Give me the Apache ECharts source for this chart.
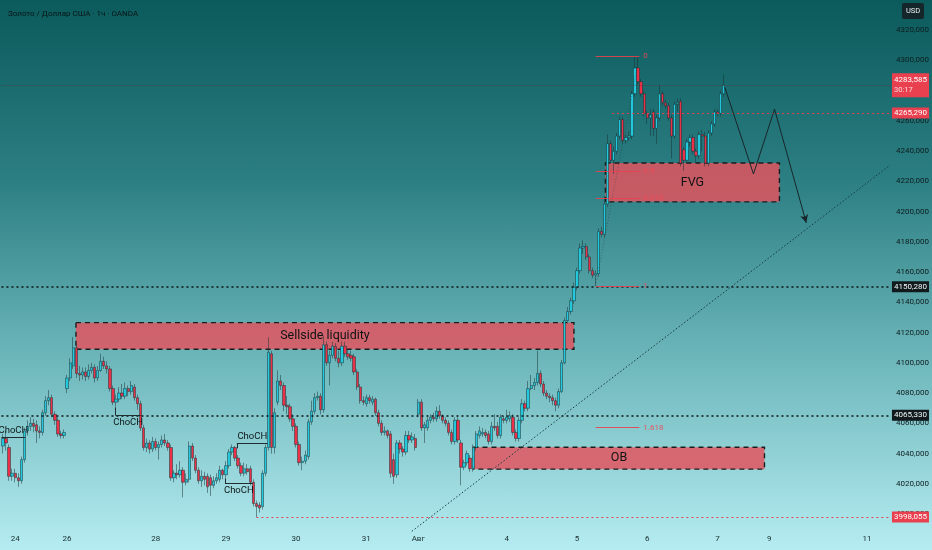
<!DOCTYPE html>
<html><head><meta charset="utf-8">
<script src="https://cdn.jsdelivr.net/npm/echarts@6/dist/echarts.min.js"></script>
<style>
html,body{margin:0;padding:0;}
#c{width:932px;height:550px;background:linear-gradient(to bottom,#0b5a5c 0%,#2c7f83 33%,#68b3b7 63%,#b5ecf1 100%);}
</style></head><body><div id="c"></div>
<script>
// ---- data ----
const opens=[4045,4050,4044,4025,4027,4024,4022,4036,4055,4058,4060,4059,4055,4054,4067,4075,4077,4066,4062,4053,4052,
4083,4090,4098,4110,4093,4092,4094,4091,4095,4097,4090,4095,4101,4098,4096,4083,4074,4076,4080,4078,4083,4081,4084,4077,
4073,4057,4044,4047,4043,4048,4044,4046,4049,4047,4044,4024,4027,4026,4029,4021,4023,4045,4037,4029,4022,4025,4025,4024,4019,4022,4023,4029,4026,4032,4041,4044,4037,4032,4027,4030,4030,4021,4007,4006,4005,4027,4044,4106,4044,4074,4088,4085,
4072,4071,4063,4058,4046,4034,4035,4038,4061,4068,4077,4078,4069,4112,4100,4105,4111,4103,4100,4111,4106,4105,4104,4094,4084,4075,4073,4077,4074,4076,4067,4060,4054,4055,4053,4036,4026,4047,4043,4041,4052,4049,4050,
4066,4074,4057,4057,4062,4064,4063,4068,4065,4062,4060,4054,4048,4062,4047,4031,4034,4037,4030,4044,4052,4053,4054,4053,4048,4058,4058,4052,4063,4062,4063,4064,4054,4050,4062,4073,4070,4083,4085,4087,4093,4086,4080,4078,4077,4075,4072,4081,4100,4128,4134,
4141,4150,4161,4176,4177,4170,4161,4158,4159,4187,4185,4205,4245,4234,4240,4250,4261,4247,4249,4250,4278,4295,4286,4278,4265,4262,4266,4255,4262,4278,4272,4270,4262,4250,4271,4273,4241,4234,4246,4249,4240,4237,4251,4250,4232,4252,4258,4266,4265,4278];
const closes=[4050,4047,4025,4027,4024,4022,4036,4055,4058,4060,4058,4055,4054,4067,4075,4077,4066,4062,4053,4052,4054,
4090,4100,4110,4093,4092,4094,4091,4095,4097,4090,4095,4101,4098,4096,4083,4074,4076,4080,4078,4083,4081,4085,4077,4073,
4057,4044,4047,4043,4048,4044,4046,4049,4047,4044,4024,4027,4026,4029,4021,4023,4045,4037,4029,4022,4025,4023,4018,4019,4022,4024,4029,4026,4032,4041,4044,4037,4032,4027,4030,4028,4021,4007,4005,4004,4027,4044,4107,4044,4067,4088,4085,4072,
4071,4063,4058,4046,4034,4035,4039,4061,4068,4077,4078,4069,4112,4100,4105,4111,4103,4100,4111,4106,4104,4103,4094,4084,4075,4074,4077,4075,4076,4067,4060,4054,4055,4052,4027,4025,4047,4043,4041,4052,4049,4051,4044,
4074,4057,4059,4062,4064,4063,4068,4065,4062,4060,4054,4048,4062,4049,4031,4034,4040,4030,4044,4053,4055,4054,4052,4048,4058,4057,4052,4064,4062,4064,4065,4054,4050,4062,4073,4070,4083,4085,4087,4093,4086,4080,4078,4077,4075,4072,4081,4100,4128,4134,4141,
4150,4161,4176,4177,4170,4161,4158,4159,4187,4185,4205,4245,4234,4240,4250,4261,4247,4249,4250,4278,4295,4286,4278,4265,4262,4264,4255,4262,4278,4272,4270,4262,4250,4271,4272,4232,4234,4246,4249,4240,4237,4251,4250,4232,4252,4258,4266,4265,4278,4283.585];
const lows=[4040,4042,4022,4022,4021,4018,4020,4034,4052,4055,4054,4047,4050,4052,4065,4072,4064,4059,4051,4050,4050,
4080,4088,4096,4090,4088,4089,4088,4089,4093,4087,4088,4094,4096,4093,4081,4072,4071,4074,4076,4076,4078,4079,4075,4069,
4055,4042,4041,4040,4041,4042,4036,4044,4045,4042,4022,4021,4023,4024,4011,4019,4021,4035,4027,4020,4018,4019,4014,4012,4017,4020,4021,4023,4024,4030,4039,4035,4030,4025,4025,4026,4019,4005,3998.055,4001,4003,4025,4042,4040,4040,4072,4082,4068,
4066,4061,4055,4044,4032,4029,4033,4036,4059,4066,4075,4066,4067,4098,4085,4103,4101,4097,4098,4104,4102,4101,4092,4082,4073,4072,4071,4073,4072,4065,4058,4052,4052,4050,4024,4020,4024,4040,4038,4039,4047,4047,4042,
4064,4055,4047,4055,4060,4061,4061,4063,4060,4058,4052,4046,4046,4047,4019,4029,4032,4028,4028,4042,4050,4051,4050,4046,4046,4055,4050,4050,4060,4060,4061,4052,4048,4048,4060,4068,4068,4082,4082,4085,4084,4078,4076,4074,4072,4068,4070,4080,4099,4126,4132,
4139,4148,4159,4172,4168,4159,4156,4151,4157,4183,4183,4203,4232,4225,4238,4248,4245,4245,4247,4248,4276,4284,4276,4263,4258,4250,4250,4245,4260,4270,4268,4260,4235,4248,4266,4230,4227,4232,4243,4238,4233,4235,4240,4230,4230,4250,4256,4263,4263,4276];
const highs=[4053,4055,4046,4030,4030,4027,4038,4057,4062,4064,4063,4062,4058,4069,4078,4082,4079,4068,4064,4055,4056,
4092,4103,4117,4112,4098,4097,4097,4099,4100,4099,4098,4106,4104,4101,4098,4085,4079,4084,4086,4087,4085,4088,4086,4079,
4075,4059,4050,4049,4051,4050,4048,4052,4053,4049,4046,4029,4033,4035,4031,4027,4048,4047,4039,4031,4029,4028,4027,4026,4025,4027,4032,4030,4035,4043,4046,4045,4039,4034,4034,4033,4032,4023,4009,4008,4029,4046,4117,4108,4070,4095,4092,4087,
4078,4073,4066,4060,4048,4038,4042,4063,4075,4080,4081,4080,4118,4114,4108,4114,4113,4108,4114,4114,4109,4108,4106,4096,4086,4078,4079,4079,4078,4077,4069,4062,4058,4056,4055,4040,4049,4049,4045,4055,4055,4054,4053,
4076,4076,4061,4064,4066,4067,4071,4072,4066,4064,4062,4056,4064,4064,4049,4036,4042,4039,4046,4055,4058,4057,4056,4055,4061,4066,4061,4066,4065,4069,4068,4066,4056,4064,4076,4075,4088,4092,4090,4108,4095,4088,4082,4080,4079,4077,4083,4102,4130,4137,4143,
4153,4163,4179,4181,4179,4172,4163,4161,4189,4190,4210,4251,4247,4243,4252,4263,4263,4251,4253,4280,4302.8,4302.8,4288,4280,4267,4268,4268,4264,4284,4280,4274,4272,4264,4273,4275,4275,4243,4248,4251,4251,4242,4253,4254,4253,4254,4260,4268,4268,4280,4291];
const slotCount = 291;                      // hourly slots incl. empty future area
const dayLabels = ['24','26','28','29','30','31','Авг','4','5','6','7','9','11'];
const dayLabelIdx = [4,21,50,73,96,119,136,165,188,211,234,251,283];
const blackLevels = [4150.28, 4065.33];
const redLevels = [3998.055, 4265.29];
const redLevelFrom = [83, 199.5];
const lastPrice = 4283.585;
const countdown = '30:17';
const zoneNames = ['Sellside liquidity','FVG','OB'];
const zoneFrom = [23.9, 197.3, 154.1];
const zoneTo = [187, 254.3, 249.4];
const zoneTop = [4126.6, 4232.2, 4044.2];
const zoneBottom = [4109, 4206.5, 4029.7];
const fibHigh = 4302.8, fibLow = 4151.0;
const fibLevels = [0, 0.5, 0.618, 1, 1.618];
const fibLabels = ['0','0.5','0.618','1','1.618'];
const fibFrom = 194.1, fibTo = 208.4;
const trendIdx = [133.9, 290.5];
const trendPrice = [3988.6, 4230.7];
const projIdx = [236.4, 245.8, 252.7, 263.1];
const projPrice = [4282.3, 4224.9, 4267.8, 4192.6];
const chochFrom = [-0.5, 36.9, 76.6, 72.7];
const chochTo = [7.3, 45.1, 86.7, 81.8];
const chochPrice = [4050.8, 4065.3, 4046.8, 4020.4];
const chochStub = [null, 4070.6, 4043.5, 4023.7];
const chochAbove = [true, false, true, false];

// ---- build ----
const fmt = v => v.toFixed(3).replace('.', ',');
const cats = [];
for (let i = 0; i < slotCount; i++) cats.push('');
dayLabelIdx.forEach((k, j) => { cats[k] = dayLabels[j]; });
const candles = opens.map((o, i) => [o, closes[i], lows[i], highs[i]]);
const xEnd = slotCount - 0.5;
const FONT = 'Roboto, "Liberation Sans", sans-serif';

const lines = [];
blackLevels.forEach(p => lines.push([
  {coord:[-0.5,p], lineStyle:{color:'#0c1416', width:1.6, type:[2,3]},
   label:{show:true, position:'end', distance:2, formatter:fmt(p), backgroundColor:'#101a1d', color:'#f2f6f6', fontSize:8, padding:[2,2,1,2], fontFamily:FONT}},
  {coord:[xEnd,p]}]));
redLevels.forEach((p,j) => lines.push([
  {coord:[redLevelFrom[j],p], lineStyle:{color:'#e8404f', width:1, type:[2,3]},
   label:{show:true, position:'end', distance:2, formatter:fmt(p), backgroundColor:'#e8404f', color:'#ffffff', fontSize:8, padding:[2,2,1,2], fontFamily:FONT}},
  {coord:[xEnd,p]}]));
lines.push([
  {coord:[-0.5,lastPrice], lineStyle:{color:'rgba(90,50,58,0.4)', width:0.8, type:'solid'},
   label:{show:true, position:'end', distance:2, formatter:'{a|'+fmt(lastPrice)+'}\n{b|'+countdown+'}', backgroundColor:'#e8404f', padding:[2,2,2,2], fontFamily:FONT,
     rich:{a:{color:'#fff', fontSize:8, lineHeight:10, fontFamily:FONT}, b:{color:'#ffd9dc', fontSize:7.5, lineHeight:10, fontFamily:FONT}}}},
  {coord:[xEnd,lastPrice]}]);
// trend line
lines.push([{coord:[trendIdx[0],trendPrice[0]], lineStyle:{color:'#163a3e', width:1, type:[1.5,2]}, label:{show:false}},
            {coord:[trendIdx[1],trendPrice[1]]}]);
// fib lines
fibLevels.forEach((l,j) => {
  const p = fibHigh - l*(fibHigh - fibLow);
  lines.push([{coord:[fibFrom,p], lineStyle:{color:'#e8404f', width:1, type:'solid', opacity:0.9},
     label:{show:true, position:'end', distance:4, formatter:fibLabels[j], color:'#ee4a58', fontSize:8, fontFamily:FONT}},
    {coord:[fibTo,p]}]);
});
lines.push([{coord:[fibFrom,fibLow], lineStyle:{color:'rgba(40,60,60,0.45)', width:1, type:[1,2]}, label:{show:false}},
            {coord:[fibTo,fibHigh]}]);
// ChoCH markers
chochPrice.forEach((p,j) => {
  lines.push([{coord:[chochFrom[j],p], lineStyle:{color:'#1f2d2f', width:1, type:'solid'},
     label:{show:true, position: chochAbove[j] ? 'insideMiddleTop' : 'insideMiddleBottom', distance:2, formatter:'ChoCH', color:'#0c1617', fontSize:9.5, fontFamily:FONT}},
    {coord:[chochTo[j],p]}]);
  if (chochStub[j] !== null) lines.push([{coord:[chochFrom[j],p], lineStyle:{color:'#1f2d2f', width:1, type:'solid'}, label:{show:false}},
    {coord:[chochFrom[j],chochStub[j]]}]);
});
// projected path
for (let k = 0; k < projIdx.length-1; k++) {
  const last = k === projIdx.length-2;
  lines.push([{coord:[projIdx[k],projPrice[k]], symbol:'none', lineStyle:{color:'#17262a', width:1, type:'solid'}, label:{show:false}},
              {coord:[projIdx[k+1],projPrice[k+1]], symbol: last ? 'arrow' : 'none', symbolSize:[6,8]}]);
}

const areas = zoneNames.map((n,j) => [
  {coord:[zoneFrom[j], zoneTop[j]], name:n},
  {coord:[zoneTo[j], zoneBottom[j]]}]);

const chart = echarts.init(document.getElementById('c'), null, {renderer:'canvas'});
chart.setOption({
  backgroundColor:'transparent',
  animation:false,
  title:{text:'Золото / Доллар США · 1ч · OANDA', left:3, top:5,
    textStyle:{fontSize:8, color:'#081414', fontWeight:'normal', fontFamily:FONT}},
  grid:{left:0, right:37.8, top:-1.31, bottom:5.7, containLabel:false},
  xAxis:[
    {type:'category', data:cats, boundaryGap:true, axisLine:{show:false}, axisTick:{show:false}, splitLine:{show:false},
     axisLabel:{interval:0, margin:-9, fontSize:8, color:'#1a2c2e', fontFamily:FONT, hideOverlap:false}},
    {type:'value', min:-0.5, max:xEnd, show:false}
  ],
  yAxis:[{type:'value', position:'right', min:3980, max:4340, interval:20, scale:true,
    axisLine:{show:false}, axisTick:{show:false}, splitLine:{show:false},
    axisLabel:{margin:6, fontSize:8, color:'#0e1c1e', fontFamily:FONT, showMinLabel:false, showMaxLabel:false,
      formatter: v => fmt(v)}}],
  graphic:[{type:'group', right:8, top:3, children:[
    {type:'rect', shape:{x:0,y:0,width:22,height:16,r:2}, style:{fill:'#15262a'}},
    {type:'text', x:11, y:8, style:{text:'USD', fill:'#e9f1f1', fontSize:7.5, fontFamily:FONT, align:'center', verticalAlign:'middle'}}
  ]}],
  series:[
    {type:'candlestick', xAxisIndex:0, yAxisIndex:0, data:candles, barWidth:'92%', z:2,
     itemStyle:{color:'#22c8dc', color0:'#ec3048', borderColor:'#183135', borderColor0:'#183135', borderWidth:0.5}},
    {type:'line', xAxisIndex:1, yAxisIndex:0, data:[], z:3, silent:true,
     markArea:{silent:true, data:areas,
       itemStyle:{color:'rgba(228,83,94,0.84)', borderColor:'#1a1d1e', borderWidth:1.4, borderType:[5,4]},
       label:{show:true, position:'inside', color:'#101314', fontSize:12.5, fontFamily:FONT}}},
    {type:'line', xAxisIndex:1, yAxisIndex:0, data:[], z:4, silent:true,
     markLine:{silent:true, symbol:['none','none'], data:lines, animation:false}}
  ]
});
</script></body></html>
